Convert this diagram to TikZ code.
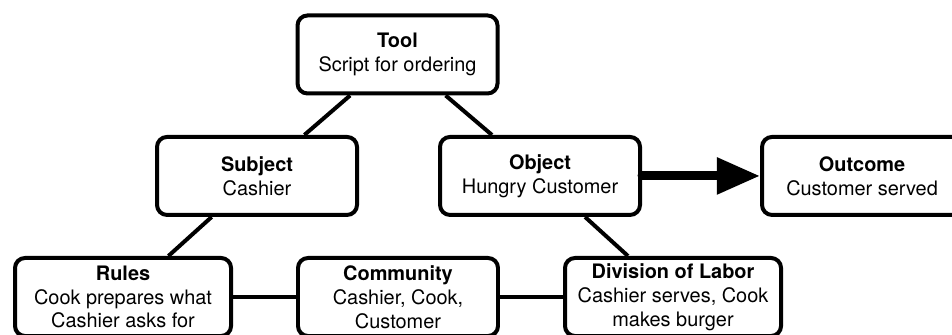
\documentclass[tikz,border=0pt]{standalone}
\usepackage{fontspec}
\setmainfont{TeX Gyre Heros}
\usetikzlibrary{arrows.meta}

\begin{document}
\begin{tikzpicture}[
    box/.style={draw, line width=2.4pt, rounded corners=6pt, align=center,
      minimum width=4.233cm, minimum height=1.651cm, inner sep=2pt,
      font=\fontsize{12}{14.4}\selectfont},
    wide/.style={box, minimum width=4.572cm},
    link/.style={line width=2.4pt},
    flow/.style={line width=5.4pt, line cap=round,
      -{Triangle[length=26pt, width=21pt]}}
  ]
        \clip (0,0) rectangle (20.15,7.09);
        \node[box] (tool) at (8.414,5.937) {\textbf{Tool}\\Script for ordering};
        \node[box] (subject) at (5.440,3.366) {\textbf{Subject}\\Cashier};
        \node[box] (object) at (11.430,3.366) {\textbf{Object}\\Hungry Customer};
        \node[box] (outcome) at (18.246,3.366) {\textbf{Outcome}\\Customer served};
        \node[wide] (rules) at (2.604,0.804) {\textbf{Rules}\\Cook prepares what\\Cashier asks for};
        \node[box] (community) at (8.424,0.804) {\textbf{Community}\\Cashier, Cook,\\Customer};
        \node[wide] (division) at (14.245,0.804) {\textbf{Division of Labor}\\Cashier serves, Cook\\makes burger};
        \draw[link] (tool) -- (subject);
        \draw[link] (tool) -- (object);
        \draw[link] (subject) -- (rules);
        \draw[link] (object) -- (division);
        \draw[link] (rules) -- (community);
        \draw[link] (community) -- (division);
        \draw[flow] (object) -- (outcome);
      \end{tikzpicture}
\end{document}
